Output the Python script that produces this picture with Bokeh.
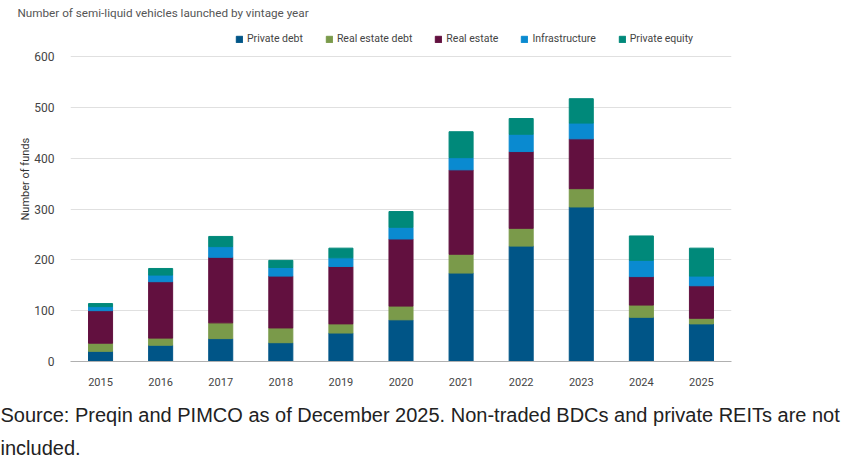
from bokeh.plotting import figure
from bokeh.models import Legend, LegendItem, ColumnDataSource, Title
from bokeh.embed import file_html
from bokeh.resources import INLINE

years = ["2015", "2016", "2017", "2018", "2019", "2020", "2021", "2022", "2023", "2024", "2025"]
private_debt = [20, 32, 45, 37, 56, 82, 174, 227, 304, 87, 74]
real_estate_debt = [16, 14, 31, 29, 18, 27, 37, 35, 36, 24, 11]
real_estate = [64, 111, 129, 102, 113, 132, 166, 151, 98, 56, 64]
infrastructure = [8, 13, 21, 17, 17, 23, 24, 34, 31, 32, 19]
private_equity = [6, 13, 20, 14, 19, 31, 51, 31, 48, 48, 55]

series_names = ["Private debt", "Real estate debt", "Real estate", "Infrastructure", "Private equity"]
series_keys = ["pd", "red", "re", "infra", "pe"]
colors = ["#005587", "#7a9a4a", "#62103f", "#0a8ad0", "#00897a"]
y_ticks = [0, 100, 200, 300, 400, 500, 600]

title_text = "Number of semi-liquid vehicles launched by vintage year"
y_label_text = "Number of funds"
source_line1 = "Source: Preqin and PIMCO as of December 2025. Non-traded BDCs and private REITs are not"
source_line2 = "included."

source = ColumnDataSource(dict(year=years, pd=private_debt, red=real_estate_debt,
                               re=real_estate, infra=infrastructure, pe=private_equity))

W, H = 849, 461
FL, FT, FW = 70, 20, 661
FB = 361                      # frame bottom (value 0)
FH = FB - FT
PX_PER_600 = 305              # pixels from 0 to 600
y_top = 600 * FH / PX_PER_600  # frame extends above 600 to hold the legend

p = figure(x_range=years, y_range=(0, y_top), frame_width=FW, frame_height=FH,
           min_border_left=FL, min_border_right=W - FL - FW, min_border_top=FT,
           min_border_bottom=H - FB, output_backend="svg", toolbar_location=None)
p.outline_line_color = None
p.background_fill_color = "white"
p.border_fill_color = "white"

renderers = p.vbar_stack(series_keys, x="year", width=0.4, color=colors, source=source)

p.xgrid.grid_line_color = None
p.ygrid.grid_line_color = "#e0e0e0"
p.ygrid.grid_line_width = 1

p.yaxis.ticker = y_ticks
p.yaxis.axis_line_color = None
p.yaxis.major_tick_line_color = None
p.yaxis.minor_tick_line_color = None
p.yaxis.major_label_standoff = 10
p.yaxis.major_label_text_font = "Roboto"
p.yaxis.major_label_text_font_size = "12px"
p.yaxis.major_label_text_color = "#444444"

p.xaxis.axis_line_color = "#b0b0b0"
p.xaxis.major_tick_line_color = None
p.xaxis.minor_tick_line_color = None
p.xaxis.major_label_standoff = 10
p.xaxis.major_label_text_font = "Roboto"
p.xaxis.major_label_text_font_size = "11px"
p.xaxis.major_label_text_color = "#444444"

items = [LegendItem(label=n, renderers=[r]) for n, r in zip(series_names, renderers)]
legend = Legend(items=items, orientation="horizontal", location=(235 - FL, FB - 45),
                border_line_color=None, background_fill_alpha=0, padding=0, margin=0,
                spacing=22, glyph_width=8, glyph_height=8, label_standoff=4,
                label_text_font="Roboto", label_text_font_size="10.5px",
                label_text_color="#444444", label_height=10)
p.add_layout(legend)

p.add_layout(Title(text=title_text, align="left", offset=17 - FL, standoff=2,
                   text_font="Roboto", text_font_size="11.7px", text_font_style="normal",
                   text_color="#555555"), "above")

p.add_layout(Title(text=y_label_text, align="left", offset=141, standoff=0,
                   text_font="Roboto", text_font_size="11px", text_font_style="normal",
                   text_color="#333333"), "left")

p.add_layout(Title(text=source_line1 + "\n" + source_line2, align="left", offset=-FL,
                   standoff=27, text_line_height=1.5,
                   text_font="Liberation Sans", text_font_size="20px", text_font_style="normal",
                   text_color="#222222"), "below")

open("out.html", "w").write(file_html(p, INLINE))
